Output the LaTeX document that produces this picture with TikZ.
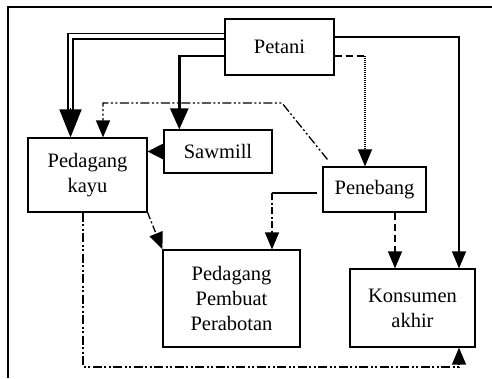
\documentclass[tikz,border=0pt]{standalone}
\usepackage{fontspec}
\setmainfont{Liberation Serif}
\usetikzlibrary{arrows.meta,calc}
\begin{document}
\begin{tikzpicture}[x=1pt,y=-1pt,
  box/.style={draw,line width=1.2pt,inner sep=0pt,align=center,
    font=\fontsize{20.5}{25}\selectfont},
  conn/.style={line width=1.3pt},
  arr/.style={-{Triangle[length=17pt,width=14pt]}},
  dashdot/.style={conn,dash pattern=on 7pt off 2.5pt on 2pt off 2.5pt},
  dashdotdot/.style={conn,dash pattern=on 9pt off 2.5pt on 2pt off 2.5pt on 2pt off 2.5pt},
  dashedline/.style={conn,dash pattern=on 7pt off 4pt},
  dottedline/.style={line width=1.1pt,dash pattern=on 1pt off 1pt}]
\useasboundingbox (0,0) rectangle (492,378);
% frame
\draw[line width=2pt] (7.7,378) -- (7.7,6.7) -- (492,6.7);
% nodes
\node[box,minimum width=109pt,minimum height=56pt] (petani) at (279.5,47) {Petani};
\node[box,minimum width=119pt,minimum height=74pt] (kayu) at (87.5,175) {Pedagang\\kayu};
\node[box,minimum width=108pt,minimum height=43pt] (saw) at (218,151.5) {Sawmill};
\node[box,minimum width=103pt,minimum height=45pt] (pen) at (374.5,189.5) {Penebang};
\node[box,minimum width=137pt,minimum height=97pt] (pemb) at (231.5,298.5) {Pedagang\\Pembuat\\Perabotan};
\node[box,minimum width=125pt,minimum height=78pt] (kons) at (412.5,308) {Konsumen\\akhir};
% coordinates
\coordinate (d1) at (68.2,33.6);
\coordinate (d2) at (72.8,39);
\coordinate (d0) at (70.5,36);
\coordinate (t0) at (179.3,56);
\coordinate (c2) at (282,103);
\coordinate (c3) at (103,103);
\coordinate (p1) at (365,56);
\coordinate (k1) at (459,37);
\coordinate (k2) at (395,200);
\coordinate (b1) at (272,193);
\coordinate (e1) at (83,367);
\coordinate (e2) at (459,367);
% Petani -> Pedagang kayu (double line)
\draw[line width=1.6pt,shorten >=26pt] (petani.west |- d1) -| (d1 |- kayu.north);
\draw[line width=1.6pt,shorten >=26pt] (petani.west |- d2) -| (d2 |- kayu.north);
\draw[line width=1.5pt,-{Triangle[length=28pt,width=22pt]}] ($(d0 |- kayu.north)+(0,-29)$) -- (d0 |- kayu.north);
% Petani -> Sawmill (thick)
\draw[line width=2.5pt,-{Triangle[length=21pt,width=18pt]}] (petani.west |- t0) -| (t0 |- saw.north);
% Sawmill -> Pedagang kayu
\draw[conn,-{Triangle[length=16pt,width=16pt]}] (saw.west) -- (kayu.east |- saw.west);
% Penebang -> Pedagang kayu
\draw[dashdotdot,arr] ($(pen.north west)+(5,-7)$) -- (c2) -- (c3) -- (c3 |- kayu.north);
% Petani -> Penebang
\draw[dashedline] (petani.east |- p1) -- (p1);
\draw[dottedline,arr] (p1) -- (p1 |- pen.north);
% Petani -> Konsumen
\draw[conn,arr] (petani.east |- k1) -| (k1 |- kons.north);
% Penebang -> Konsumen
\draw[dashedline,arr] (k2 |- pen.south) -- (k2 |- kons.north);
% Penebang -> Pembuat
\draw[conn] ($(pen.west |- b1)+(-5,0)$) -- (b1);
\draw[dashdot,arr] (b1) -- (b1 |- pemb.north);
% Pedagang kayu -> Pembuat
\draw[dashdot,arr] (kayu.south east) -- (pemb.north west);
% Pedagang kayu -> Konsumen
\draw[dashdotdot,arr] (e1 |- kayu.south) -- (e1) -- (e2) -- (e2 |- kons.south);
\end{tikzpicture}
\end{document}
